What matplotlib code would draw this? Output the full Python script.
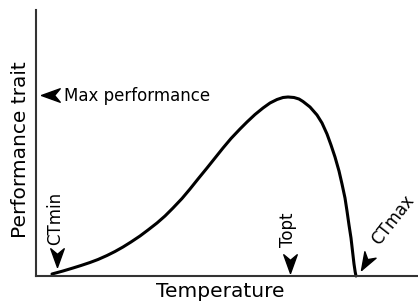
import numpy as np
import matplotlib.pyplot as plt

# thermal performance curve
temperature = [16, 27, 37, 45, 54, 62, 71, 79, 87, 95, 104, 112, 121, 129,
               137, 146, 154, 162, 171, 179, 187, 195, 204, 211, 219, 227,
               234, 241, 247, 252, 258, 263, 267, 274, 281, 286, 291, 295,
               299, 303, 306, 309, 311, 313, 315, 316.5, 318, 319.2, 320]
performance = [2, 5, 8, 10.5, 13.5, 16.5, 20.5, 24.5, 29, 34, 40, 46, 53, 60,
               68, 77.5, 87, 97, 108, 118, 128, 137.5, 147, 154, 161.5, 168,
               173, 176.5, 178.5, 179, 178.5, 177, 174.5, 169, 161, 153, 142, 131,
               119, 105, 92, 78, 65, 51, 38, 25, 12, 4, 0]

t = np.array(temperature)
p = np.array(performance)
ctmin = t[0]
ctmax = t[-1]
topt = t[np.argmax(p)]
pmax = p.max()


def arrow(angle):
    # notched arrowhead with the tip at the origin, pointing down at angle 0
    v = np.array([[0, 0], [-0.36, 1], [0, 0.7], [0.36, 1], [0, 0]])
    a = np.deg2rad(angle)
    r = np.array([[np.cos(a), -np.sin(a)], [np.sin(a), np.cos(a)]])
    return v @ r.T


fig = plt.figure(figsize=(4.18, 3.06), dpi=100)
ax = fig.add_axes([36 / 418, 30 / 306, 382 / 418, 266 / 306])

ax.plot(t, p, color='black', lw=2.2, solid_capstyle='round', clip_on=False)
ax.set_xlim(0, 382)
ax.set_ylim(0, 266)

for s in ['top', 'right']:
    ax.spines[s].set_visible(False)
for s in ['left', 'bottom']:
    ax.spines[s].set_linewidth(1.5)
    ax.spines[s].set_color('#333333')
ax.set_xticks([])
ax.set_yticks([])

ax.set_xlabel('Temperature', fontsize=14.5, labelpad=4, x=0.482)
ax.set_ylabel('Performance trait', fontsize=14.5, labelpad=4, y=0.474)

ms = 27
fs = 12
# max performance
ax.plot([5], [pmax + 2], marker=arrow(-90), ms=ms, color='black', clip_on=False)
ax.text(28, pmax + 1, 'Max performance', fontsize=fs, va='center', ha='left')
# CTmin
ax.plot([ctmin + 5], [9], marker=arrow(0), ms=ms, color='black', clip_on=False)
ax.text(ctmin + 3, 31, 'CTmin', rotation=90, fontsize=fs, ha='center', va='bottom')
# Topt
ax.plot([topt + 2], [3], marker=arrow(0), ms=ms, color='black', clip_on=False)
ax.text(topt + 0, 29, 'Topt', rotation=90, fontsize=fs, ha='center', va='bottom')
# CTmax
ax.plot([ctmax + 5], [6], marker=arrow(-30), ms=ms, color='black', clip_on=False)
ax.text(ctmax + 12, 28, 'CTmax', rotation=52, fontsize=fs, ha='left', va='bottom')

fig.savefig('out.png', dpi=100)
